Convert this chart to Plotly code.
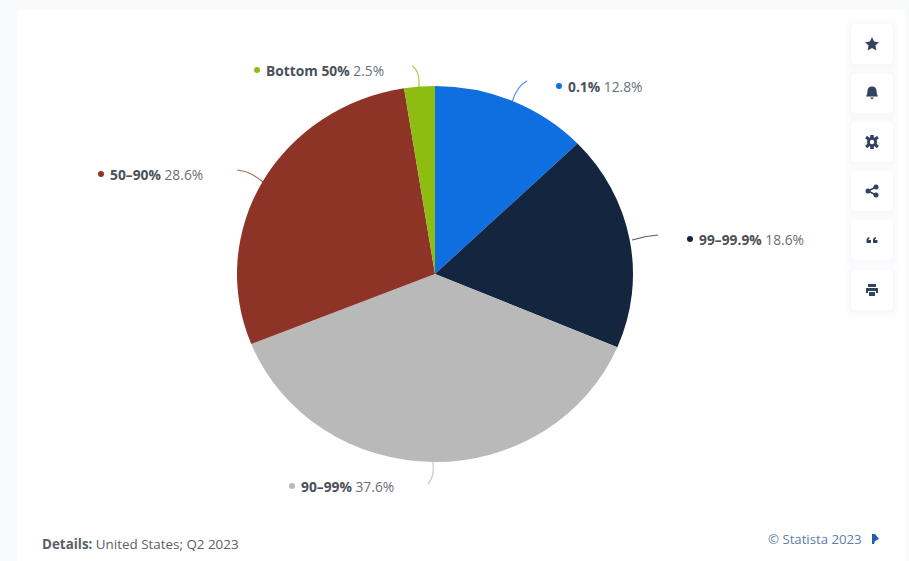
import plotly.graph_objects as go

# Wealth distribution in the United States, Q2 2023
categories = ["0.1%", "99-99.9%", "90-99%", "50-90%", "Bottom 50%"]
shares = [12.8, 18.6, 37.6, 28.6, 2.5]
slice_colors = ["#0f6fe0", "#14253f", "#b9b9b9", "#8e3427", "#8ebd12"]

WIDTH, HEIGHT = 909, 561
PIE_CX, PIE_CY, PIE_RX, PIE_RY = 435, 274, 198, 188

# Legend-style labels: dot x, text x, centre y
label_dot_x = [559, 690, 292, 101, 257]
label_text_x = [566, 697, 299, 108, 264]
label_y = [86, 239, 486, 174, 70]

# Curved connectors between the slices and their labels
connectors = [
    "M 512 102 Q 517 86 527 81",
    "M 632 240 Q 645 236 658 235",
    "M 433 462 Q 435 476 428 484",
    "M 263 182 Q 250 171 237 170",
    "M 419 88 Q 420 70 412 66",
]

button_centres_y = [44, 93, 142, 191, 240, 290]
BUTTON_X = 872
ICON_COLOR = "#33435f"
NAME_COLOR = "#4b5159"
VALUE_COLOR = "#6a6f76"

fig = go.Figure()

fig.add_trace(go.Pie(
    labels=categories,
    values=shares,
    sort=False,
    direction="clockwise",
    rotation=0,
    textinfo="none",
    hoverinfo="label+percent",
    marker=dict(colors=slice_colors, line=dict(width=0)),
    domain=dict(
        x=[(PIE_CX - PIE_RX) / WIDTH, (PIE_CX + PIE_RX) / WIDTH],
        y=[1 - (PIE_CY + PIE_RX) / HEIGHT, 1 - (PIE_CY - PIE_RX) / HEIGHT],
    ),
    showlegend=False,
))

# Empty trace so the pixel-scaled axes exist for shapes and annotations
fig.add_trace(go.Scatter(x=[None], y=[None], showlegend=False, hoverinfo="skip"))

shapes = []
annotations = []

# White card on the pale page background
shapes.append(dict(type="rect", x0=18, x1=905, y0=10, y1=561,
                   fillcolor="#ffffff", line=dict(width=0), layer="below"))


def rounded_rect(x0, y0, x1, y1, r):
    return (f"M {x0+r} {y0} L {x1-r} {y0} Q {x1} {y0} {x1} {y0+r} "
            f"L {x1} {y1-r} Q {x1} {y1} {x1-r} {y1} L {x0+r} {y1} "
            f"Q {x0} {y1} {x0} {y1-r} L {x0} {y0+r} Q {x0} {y0} {x0+r} {y0} Z")


def icon_paths(kind, cx, cy):
    if kind == "star":
        return [f"M {cx} {cy-7} L {cx+2.1} {cy-2.4} L {cx+7} {cy-1.8} L {cx+3.4} {cy+1.5} "
                f"L {cx+4.4} {cy+6.4} L {cx} {cy+4} L {cx-4.4} {cy+6.4} L {cx-3.4} {cy+1.5} "
                f"L {cx-7} {cy-1.8} L {cx-2.1} {cy-2.4} Z"]
    if kind == "bell":
        return [f"M {cx-6} {cy+3.5} Q {cx-4.5} {cy+1} {cx-4.5} {cy-2} Q {cx-4.5} {cy-6.5} {cx} {cy-6.5} "
                f"Q {cx+4.5} {cy-6.5} {cx+4.5} {cy-2} Q {cx+4.5} {cy+1} {cx+6} {cy+3.5} Z",
                f"M {cx-2} {cy+4.5} L {cx+2} {cy+4.5} L {cx} {cy+6.5} Z"]
    if kind == "gear":
        return [f"M {cx-1.8} {cy-7} L {cx+1.8} {cy-7} L {cx+1.8} {cy+7} L {cx-1.8} {cy+7} Z",
                f"M {cx-6.8} {cy-3.8} L {cx-5} {cy-6.2} L {cx+6.8} {cy+3.8} L {cx+5} {cy+6.2} Z",
                f"M {cx+6.8} {cy-3.8} L {cx+5} {cy-6.2} L {cx-6.8} {cy+3.8} L {cx-5} {cy+6.2} Z"]
    if kind == "quote":
        return [f"M {cx-5.5} {cy+3} L {cx-5.5} {cy} Q {cx-5.5} {cy-2.5} {cx-2.5} {cy-3} "
                f"L {cx-2.5} {cy-1.5} Q {cx-3.6} {cy-1.2} {cx-3.6} {cy} L {cx-1} {cy} L {cx-1} {cy+3} Z",
                f"M {cx+1} {cy+3} L {cx+1} {cy} Q {cx+1} {cy-2.5} {cx+4} {cy-3} "
                f"L {cx+4} {cy-1.5} Q {cx+2.9} {cy-1.2} {cx+2.9} {cy} L {cx+5.5} {cy} L {cx+5.5} {cy+3} Z"]
    if kind == "print":
        return [f"M {cx-4} {cy-6} L {cx+4} {cy-6} L {cx+4} {cy-3} L {cx-4} {cy-3} Z",
                f"M {cx-6} {cy-2} L {cx+6} {cy-2} L {cx+6} {cy+3} L {cx+4} {cy+3} L {cx+4} {cy+1} "
                f"L {cx-4} {cy+1} L {cx-4} {cy+3} L {cx-6} {cy+3} Z",
                f"M {cx-3} {cy+2} L {cx+3} {cy+2} L {cx+3} {cy+6} L {cx-3} {cy+6} Z"]
    return []


# Floating toolbar on the right edge
for cy, kind in zip(button_centres_y, ["star", "bell", "gear", "share", "quote", "print"]):
    for grow, alpha in [(6, 0.006), (4, 0.008), (2, 0.012)]:
        shapes.append(dict(type="path",
                           path=rounded_rect(BUTTON_X - 21 - grow, cy - 20 - grow + 1,
                                             BUTTON_X + 21 + grow, cy + 20 + grow + 1, 6),
                           fillcolor=f"rgba(40,60,110,{alpha})", line=dict(width=0), layer="below"))
    shapes.append(dict(type="path",
                       path=rounded_rect(BUTTON_X - 21, cy - 20, BUTTON_X + 21, cy + 20, 5),
                       fillcolor="#ffffff", line=dict(width=0), layer="below"))
    for p in icon_paths(kind, BUTTON_X, cy):
        shapes.append(dict(type="path", path=p, fillcolor=ICON_COLOR, line=dict(width=0)))
    if kind == "gear":
        shapes.append(dict(type="circle", x0=BUTTON_X - 5, x1=BUTTON_X + 5, y0=cy - 5, y1=cy + 5,
                           fillcolor=ICON_COLOR, line=dict(width=0)))
        shapes.append(dict(type="circle", x0=BUTTON_X - 2.2, x1=BUTTON_X + 2.2, y0=cy - 2.2, y1=cy + 2.2,
                           fillcolor="#ffffff", line=dict(width=0)))
    if kind == "share":
        shapes.append(dict(type="path",
                           path=f"M {BUTTON_X+4} {cy-4} L {BUTTON_X-4} {cy} L {BUTTON_X+4} {cy+4}",
                           line=dict(color=ICON_COLOR, width=1.6)))
        for dx, dy in [(4, -4), (-4, 0), (4, 4)]:
            shapes.append(dict(type="circle", x0=BUTTON_X + dx - 2.5, x1=BUTTON_X + dx + 2.5,
                               y0=cy + dy - 2.5, y1=cy + dy + 2.5,
                               fillcolor=ICON_COLOR, line=dict(width=0)))

# Slice labels with coloured dots and connectors
for name, share, color, dot_x, text_x, y, conn in zip(
        categories, shares, slice_colors, label_dot_x, label_text_x, label_y, connectors):
    shapes.append(dict(type="circle", x0=dot_x - 3, x1=dot_x + 3, y0=y - 3, y1=y + 3,
                       fillcolor=color, line=dict(width=0)))
    shapes.append(dict(type="path", path=conn, opacity=0.75, line=dict(color=color, width=1.2)))
    annotations.append(dict(
        x=text_x, y=y, xref="x", yref="y", xanchor="left", yanchor="middle", showarrow=False,
        text=f"<b>{name.replace('-', '–')}</b> <span style='color:{VALUE_COLOR}'>{share}%</span>",
        font=dict(family="Open Sans", size=13.8, color=NAME_COLOR),
    ))

# Footer: details note, copyright and flag mark
annotations.append(dict(x=40, y=544, xref="x", yref="y", xanchor="left", yanchor="middle",
                        showarrow=False, text="<b>Details:</b> United States; Q2 2023",
                        font=dict(family="Open Sans", size=13.4, color="#5a6068")))
annotations.append(dict(x=766, y=539, xref="x", yref="y", xanchor="left", yanchor="middle",
                        showarrow=False, text="© Statista 2023",
                        font=dict(family="Open Sans", size=13.2, color="#5c80a8")))
shapes.append(dict(type="path",
                   path="M 872 534 L 875 534 L 879 539 L 875 541 L 874 544 L 872 544 Z",
                   fillcolor="#1f5fae", line=dict(width=0)))

fig.update_layout(
    width=WIDTH,
    height=HEIGHT,
    margin=dict(l=0, r=0, t=0, b=0),
    paper_bgcolor="#f9fafc",
    plot_bgcolor="rgba(0,0,0,0)",
    xaxis=dict(range=[0, WIDTH], visible=False, fixedrange=True),
    yaxis=dict(range=[HEIGHT, 0], visible=False, fixedrange=True),
    shapes=shapes,
    annotations=annotations,
)

# The pie is drawn slightly flattened vertically
flatten = f"""
var layer = document.querySelector('.pielayer');
if (layer) {{
  layer.setAttribute('transform',
    'translate(0,{PIE_CY}) scale(1,{PIE_RY / PIE_RX:.4f}) translate(0,{-PIE_CY})');
}}
"""

fig.write_html("out.html", post_script=flatten, config=dict(displayModeBar=False))
